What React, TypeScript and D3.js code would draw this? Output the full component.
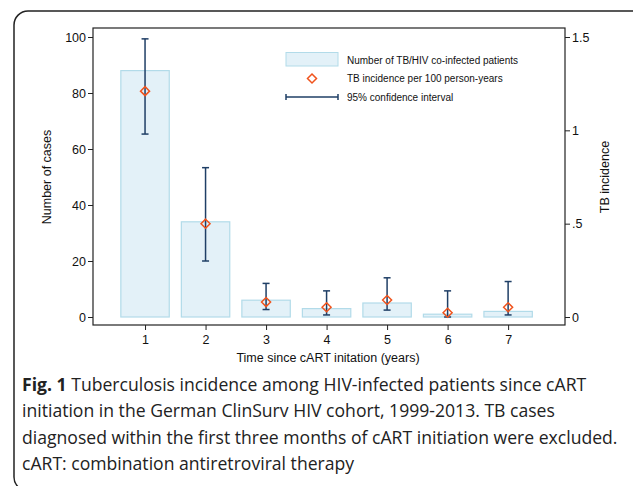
import React, { useEffect, useRef } from 'react'
import * as d3 from 'd3'

const years = [1, 2, 3, 4, 5, 6, 7]
const cases = [88, 34, 6, 3, 5, 1, 2]
const incidence = [1.21, 0.5, 0.08, 0.052, 0.091, 0.023, 0.052]
const ciLow = [0.98, 0.3, 0.04, 0.011, 0.037, 0.0, 0.011]
const ciHigh = [1.49, 0.8, 0.18, 0.14, 0.21, 0.14, 0.19]
const leftTicks = [0, 20, 40, 60, 80, 100]
const rightTicks = [0, 0.5, 1, 1.5]
const legendLabels = [
  'Number of TB/HIV co-infected patients',
  'TB incidence per 100 person-years',
  '95% confidence interval'
]
const captionLines = [
  'Tuberculosis incidence among HIV-infected patients since cART',
  'initiation in the German ClinSurv HIV cohort, 1999-2013. TB cases',
  'diagnosed within the first three months of cART initiation were excluded.',
  'cART: combination antiretroviral therapy'
]

export default function App() {
  const leftAxis = useRef<SVGGElement>(null)
  const rightAxis = useRef<SVGGElement>(null)
  const bottomAxis = useRef<SVGGElement>(null)

  // plot frame
  const left = 93, right = 565, top = 28, bottom = 325
  const x = d3.scaleLinear().domain([0.14, 7.94]).range([left, right])
  const y = d3.scaleLinear().domain([0, 100]).range([317, 37])
  const y2 = d3.scaleLinear().domain([0, 1.5]).range([317, 37])
  const barW = x(0.8) - x(0)
  const color = '#1f3f66'
  const font = '"Liberation Sans", Arial, sans-serif'

  useEffect(() => {
    const styleAxis = (g: any) => {
      g.select('.domain').remove()
      g.selectAll('text').attr('font-family', font).attr('font-size', 12.5).attr('fill', '#111')
      g.selectAll('line').attr('stroke', '#222')
    }
    d3.select(leftAxis.current)
      .call(d3.axisLeft(y).tickValues(leftTicks).tickSize(5).tickPadding(2) as any)
      .call(styleAxis)
    d3.select(rightAxis.current)
      .call(d3.axisRight(y2).tickValues(rightTicks).tickSize(5).tickPadding(2)
        .tickFormat((d: any) => (d === 0 ? '0' : d3.format('.1~f')(d).replace(/^0/, ''))) as any)
      .call(styleAxis)
    d3.select(bottomAxis.current)
      .call(d3.axisBottom(x).tickValues(years).tickSize(5).tickPadding(5).tickFormat(d3.format('d')) as any)
      .call(styleAxis)
  }, [])

  const diamond = (cx: number, cy: number, r: number) =>
    `M${cx},${cy - r}L${cx + r},${cy}L${cx},${cy + r}L${cx - r},${cy}Z`

  return (
    <svg width={633} height={486} style={{ position: 'absolute', left: 0, top: 0 }}>
      <rect x={14} y={11} width={640} height={480} rx={14} fill="#fff" stroke="#222" strokeWidth={1.5} />

      <g>
        {years.map((yr, i) => (
          <rect key={i} x={x(yr) - barW / 2} y={y(cases[i])} width={barW} height={y(0) - y(cases[i])}
            fill="#e3f1f8" stroke="#b2dbe9" strokeWidth={1.2} />
        ))}
      </g>
      <g stroke={color} strokeWidth={1.5}>
        {years.map((yr, i) => (
          <g key={i}>
            <line x1={x(yr)} x2={x(yr)} y1={y2(ciLow[i])} y2={y2(ciHigh[i])} />
            <line x1={x(yr) - 3.5} x2={x(yr) + 3.5} y1={y2(ciLow[i])} y2={y2(ciLow[i])} />
            <line x1={x(yr) - 3.5} x2={x(yr) + 3.5} y1={y2(ciHigh[i])} y2={y2(ciHigh[i])} />
          </g>
        ))}
      </g>
      <g>
        {years.map((yr, i) => (
          <path key={i} d={diamond(x(yr), y2(incidence[i]), 4.5)} fill="none" stroke="#f0531c" strokeWidth={1.5} />
        ))}
      </g>

      <rect x={left} y={top} width={right - left} height={bottom - top} fill="none" stroke="#222" strokeWidth={1.2} />
      <g ref={leftAxis} transform={`translate(${left},0)`} />
      <g ref={rightAxis} transform={`translate(${right},0)`} />
      <g ref={bottomAxis} transform={`translate(0,${bottom})`} />

      <text transform={`translate(51,177) rotate(-90)`} textAnchor="middle" fontFamily={font} fontSize={12.5} fill="#111">Number of cases</text>
      <text transform={`translate(609,177) rotate(-90)`} textAnchor="middle" fontFamily={font} fontSize={12.5} fill="#111">TB incidence</text>
      <text x={328} y={362} textAnchor="middle" fontFamily={font} fontSize={12.5} fill="#111">Time since cART initation (years)</text>

      <g fontFamily={font} fontSize={10} fill="#111">
        <rect x={286} y={52.5} width={52} height={13.5} fill="#e3f1f8" stroke="#b2dbe9" strokeWidth={1} />
        <path d={diamond(312, 78.5, 4.5)} fill="none" stroke="#f0531c" strokeWidth={1.5} />
        <g stroke={color} strokeWidth={1.5}>
          <line x1={286} x2={338} y1={97} y2={97} />
          <line x1={286} x2={286} y1={94} y2={100} />
          <line x1={338} x2={338} y1={94} y2={100} />
        </g>
        {legendLabels.map((t, i) => (
          <text key={i} x={347} y={63.5 + i * 18.7}>{t}</text>
        ))}
      </g>

      <g fontFamily='"Open Sans", "Noto Sans", sans-serif' fontSize={17.6} fill="#222">
        {captionLines.map((t, i) => (
          <text key={i} x={22} y={391 + i * 26.3}>
            {i === 0 && <tspan fontWeight="bold">Fig. 1 </tspan>}
            {t}
          </text>
        ))}
      </g>
    </svg>
  )
}
